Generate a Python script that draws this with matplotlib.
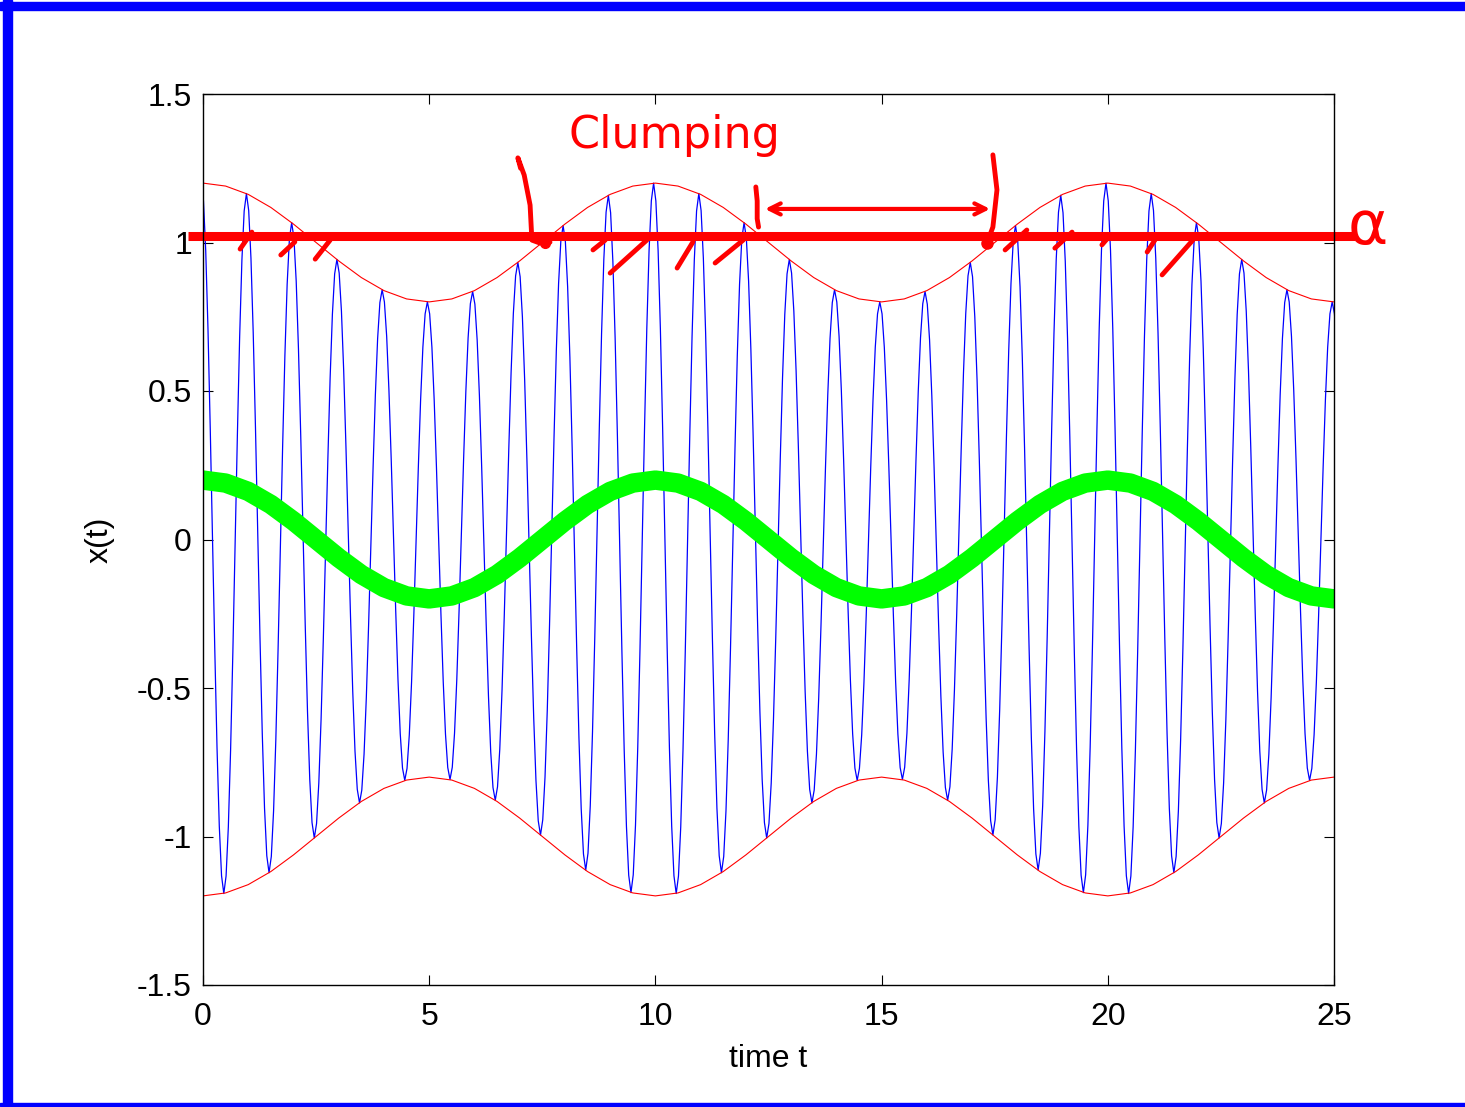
import numpy as np
import matplotlib
matplotlib.use('Agg')
import matplotlib.pyplot as plt
from matplotlib.patches import Rectangle

plt.rcParams['font.family'] = ['Liberation Sans', 'DejaVu Sans']

# slow curves, read every half time unit (t = 0, 0.5, ..., 25)
slow_t = np.arange(0, 25.5, 0.5)
drift = [0.200, 0.190, 0.162, 0.118, 0.062, 0.000, -0.062, -0.118, -0.162, -0.190,
         -0.200, -0.190, -0.162, -0.118, -0.062, 0.000, 0.062, 0.118, 0.162, 0.190,
         0.200, 0.190, 0.162, 0.118, 0.062, 0.000, -0.062, -0.118, -0.162, -0.190,
         -0.200, -0.190, -0.162, -0.118, -0.062, 0.000, 0.062, 0.118, 0.162, 0.190,
         0.200, 0.190, 0.162, 0.118, 0.062, 0.000, -0.062, -0.118, -0.162, -0.190,
         -0.200]
upper_env = [1.200, 1.190, 1.162, 1.118, 1.062, 1.000, 0.938, 0.882, 0.838, 0.810,
             0.800, 0.810, 0.838, 0.882, 0.938, 1.000, 1.062, 1.118, 1.162, 1.190,
             1.200, 1.190, 1.162, 1.118, 1.062, 1.000, 0.938, 0.882, 0.838, 0.810,
             0.800, 0.810, 0.838, 0.882, 0.938, 1.000, 1.062, 1.118, 1.162, 1.190,
             1.200, 1.190, 1.162, 1.118, 1.062, 1.000, 0.938, 0.882, 0.838, 0.810,
             0.800]
lower_env = [-1.200, -1.190, -1.162, -1.118, -1.062, -1.000, -0.938, -0.882, -0.838, -0.810,
             -0.800, -0.810, -0.838, -0.882, -0.938, -1.000, -1.062, -1.118, -1.162, -1.190,
             -1.200, -1.190, -1.162, -1.118, -1.062, -1.000, -0.938, -0.882, -0.838, -0.810,
             -0.800, -0.810, -0.838, -0.882, -0.938, -1.000, -1.062, -1.118, -1.162, -1.190,
             -1.200, -1.190, -1.162, -1.118, -1.062, -1.000, -0.938, -0.882, -0.838, -0.810,
             -0.800]

# fast oscillation: times and heights of its tips
top_t = [-0.04, 0.96, 1.96, 2.96, 3.96, 4.96, 5.96, 6.96, 7.96, 8.96,
         9.96, 10.96, 11.96, 12.96, 13.96, 14.96, 15.96, 16.96, 17.96, 18.96,
         19.96, 20.96, 21.96, 22.96, 23.96, 24.96]
top_x = [1.20, 1.165, 1.067, 0.943, 0.841, 0.80, 0.835, 0.933, 1.057, 1.159,
         1.20, 1.165, 1.067, 0.943, 0.841, 0.80, 0.835, 0.933, 1.057, 1.159,
         1.20, 1.165, 1.067, 0.943, 0.841, 0.80]
bot_t = [0.46, 1.46, 2.46, 3.46, 4.46, 5.46, 6.46, 7.46, 8.46, 9.46,
         10.46, 11.46, 12.46, 13.46, 14.46, 15.46, 16.46, 17.46, 18.46, 19.46,
         20.46, 21.46, 22.46, 23.46, 24.46, 25.46]
bot_x = [-1.192, -1.122, -1.005, -0.887, -0.811, -0.808, -0.878, -0.995, -1.113, -1.189,
         -1.192, -1.122, -1.005, -0.887, -0.811, -0.808, -0.878, -0.995, -1.113, -1.189,
         -1.192, -1.122, -1.005, -0.887, -0.811, -0.808]
# shape of one half swing, tip to tip (fraction of the way, normalised height)
half_frac = [0.0, 0.1, 0.2, 0.3, 0.4, 0.5, 0.6, 0.7, 0.8, 0.9, 1.0]
half_shape = [1.0, 0.95, 0.81, 0.59, 0.31, 0.0, -0.31, -0.59, -0.81, -0.95, -1.0]

alpha_level = 1.022

# tips in time order
tips = sorted(list(zip(top_t, top_x)) + list(zip(bot_t, bot_x)))
fast_t, fast_x = [], []
for (t0, x0), (t1, x1) in zip(tips[:-1], tips[1:]):
    mid = (x0 + x1) / 2
    half = (x0 - x1) / 2
    for f, s in zip(half_frac[:-1], half_shape[:-1]):
        fast_t.append(t0 + f * (t1 - t0))
        fast_x.append(mid + half * s)
fast_t.append(tips[-1][0])
fast_x.append(tips[-1][1])

fig = plt.figure(figsize=(14.65, 11.07), dpi=100)
ax = fig.add_axes([203 / 1465, 122 / 1107, 1131 / 1465, 891 / 1107])

ax.plot(fast_t, fast_x, color='#0000ff', lw=0.9)
ax.plot(slow_t, upper_env, color='#ff0000', lw=0.8)
ax.plot(slow_t, lower_env, color='#ff0000', lw=0.8)
ax.plot(slow_t, drift, color='#00ff00', lw=14, solid_capstyle='round')

ax.set_xlim(0, 25)
ax.set_ylim(-1.5, 1.5)
ax.set_xticks([0, 5, 10, 15, 20, 25])
ax.set_xticklabels(['0', '5', '10', '15', '20', '25'])
ax.set_yticks([-1.5, -1, -0.5, 0, 0.5, 1, 1.5])
ax.set_yticklabels(['-1.5', '-1', '-0.5', '0', '0.5', '1', '1.5'])
ax.tick_params(direction='in', length=7, width=0.8, labelsize=23,
               top=True, right=True)
ax.tick_params(axis='y', pad=8)
ax.tick_params(axis='x', pad=12)
for sp in ax.spines.values():
    sp.set_linewidth(1.0)
ax.set_xlabel('time t', fontsize=23, labelpad=9)
ax.set_ylabel('x(t)', fontsize=23, labelpad=16)

# hand-drawn annotations in red
red = '#ff0000'
ax.plot([-0.33, 25.47], [alpha_level, alpha_level], color=red, lw=6.5,
        clip_on=False, solid_capstyle='butt')
strokes = [((0.82, 0.978), (1.08, 1.035)), ((1.72, 0.958), (2.03, 1.002)),
           ((2.48, 0.944), (2.81, 1.008)), ((8.62, 0.975), (8.89, 1.008)),
           ((9.00, 0.897), (9.81, 1.008)), ((10.48, 0.914), (10.83, 1.002)),
           ((11.32, 0.931), (11.94, 1.008)), ((17.73, 0.975), (18.21, 1.042)),
           ((18.83, 0.981), (19.21, 1.035)), ((19.87, 0.992), (20.00, 1.015)),
           ((20.87, 0.968), (21.04, 1.008)), ((21.20, 0.891), (21.88, 1.008))]
for (a0, b0), (a1, b1) in strokes:
    ax.plot([a0, a1], [b0, b1], color=red, lw=3.5, solid_capstyle='round')

# brackets around the clump
ax.plot([7.02, 6.96, 7.10, 7.23, 7.27, 7.45, 7.67],
        [1.250, 1.285, 1.227, 1.126, 1.008, 0.998, 1.001],
        color=red, lw=3.5, solid_capstyle='round', solid_joinstyle='round')
ax.plot([7.55], [1.0], 'o', color=red, ms=7)
ax.plot([12.22, 12.25, 12.25, 12.28], [1.187, 1.14, 1.08, 1.052],
        color=red, lw=3.5, solid_capstyle='round')
ax.plot([17.46, 17.55, 17.46, 17.33], [1.295, 1.177, 1.052, 0.998],
        color=red, lw=3.5, solid_capstyle='round')
ax.plot([17.33], [1.0], 'o', color=red, ms=8)
ax.annotate('', xy=(12.36, 1.113), xytext=(17.46, 1.113),
            arrowprops=dict(arrowstyle='<->,head_length=0.8,head_width=0.4',
                            color=red, lw=3))
ax.text(10.43, 1.36, 'Clumping', color=red, fontsize=32, ha='center',
        va='center', family='DejaVu Sans')
ax.text(25.75, 1.05, 'α', color=red, fontsize=44, ha='center', va='center',
        family='DejaVu Sans', clip_on=False)

# blue frame of the snapshot
blue = '#0000ff'
fig.patches.append(Rectangle((3 / 1465, 0), 9 / 1465, 1, color=blue,
                             transform=fig.transFigure, figure=fig))
fig.patches.append(Rectangle((0, 1 - 10 / 1107), 1, 8 / 1107, color=blue,
                             transform=fig.transFigure, figure=fig))
fig.patches.append(Rectangle((0, 1 / 1107), 1, 3 / 1107, color=blue,
                             transform=fig.transFigure, figure=fig))

fig.savefig('out.png', dpi=100)
